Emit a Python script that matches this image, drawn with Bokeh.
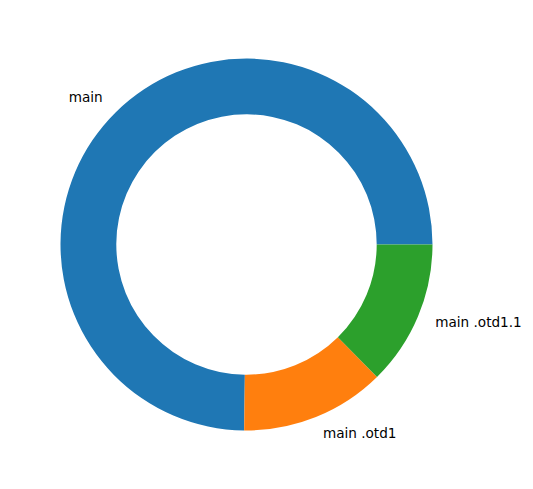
import numpy as np
from bokeh.plotting import figure
from bokeh.models import Range1d, ColumnDataSource
from bokeh.core.properties import value
from bokeh.embed import file_html
from bokeh.resources import INLINE

labels = ["main", "main .otd1", "main .otd1.1"]
values = [74.8, 12.58, 12.62]
colors = ["#1f77b4", "#ff7f0e", "#2ca02c"]

vals = np.array(values, dtype=float)
frac = vals / vals.sum()
ends = np.cumsum(frac) * 2 * np.pi
starts = np.concatenate([[0.0], ends[:-1]])
mids = (starts + ends) / 2

scale = 186.0
cx, cy = 246.0, 244.0
off = 0.0
W, H = 525, 481
x0 = (off - cx) / scale
x1 = (off + W - cx) / scale
y1 = (cy - off) / scale
y0 = (cy - off - H) / scale

p = figure(width=W, height=H, output_backend="svg", toolbar_location=None,
           x_range=Range1d(x0, x1), y_range=Range1d(y0, y1),
           min_border=0, background_fill_color="white", border_fill_color="white")
p.axis.visible = False
p.grid.visible = False
p.outline_line_color = None

src = ColumnDataSource(dict(start=starts, end=ends, color=colors))
p.annular_wedge(x=0, y=0, inner_radius=0.7, outer_radius=1.0,
                start_angle="start", end_angle="end", fill_color="color",
                line_color=None, source=src)

lx = 1.1 * np.cos(mids)
ly = 1.1 * np.sin(mids)
align = ["right" if v < 0 else "left" for v in lx]
tsrc = ColumnDataSource(dict(x=lx, y=ly, text=labels, align=align))
p.text(x="x", y="y", text="text", text_align="align", text_baseline="middle",
       y_offset=-1.5,
       text_font=value("DejaVu Sans"), text_font_size="13.6px", text_color="black",
       source=tsrc)

open("out.html", "w").write(file_html(p, INLINE))
